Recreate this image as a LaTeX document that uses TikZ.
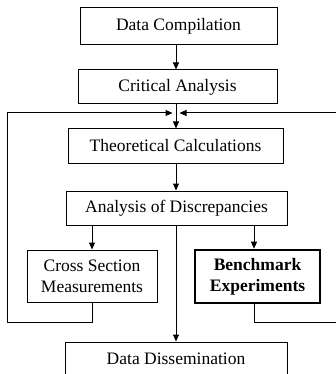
\documentclass[tikz,border=0pt]{standalone}
\usepackage{fontspec}
\setmainfont{Liberation Serif}
\usetikzlibrary{arrows.meta}
\begin{document}
\begin{tikzpicture}[x=1pt,y=-1pt,
  box/.style={draw,line width=1pt,inner sep=0pt,align=center,
    font=\fontsize{17.5}{21}\selectfont},
  bbox/.style={box,line width=2.6pt,font=\fontsize{17.5}{21}\selectfont\bfseries},
  conn/.style={line width=1pt},
  arr/.style={conn,-{Triangle[width=6pt,length=7pt]}}]
\clip (0,0) rectangle (336,374);
\fill[white] (0,0) rectangle (336,374);
\node[box,minimum width=197pt,minimum height=37pt] (dc) at (178.5,26.5) {Data Compilation};
\node[box,minimum width=199pt,minimum height=34pt] (ca) at (177.5,87) {Critical Analysis};
\node[box,minimum width=215pt,minimum height=34pt] (tc) at (175.5,146) {Theoretical Calculations};
\node[box,minimum width=221pt,minimum height=34pt] (ad) at (176.5,208) {Analysis of Discrepancies};
\node[box,minimum width=130pt,minimum height=52pt] (cs) at (92,276) {Cross Section\\Measurements};
\node[bbox,minimum width=125pt,minimum height=53pt] (be) at (257.5,276.5) {Benchmark\\Experiments};
\node[box,minimum width=222pt,minimum height=34pt] (dd) at (176,359) {Data Dissemination};
\coordinate (j) at (176,113);
\coordinate (jl) at (172.5,113);
\coordinate (jr) at (179.5,113);
\draw[arr] (dc.south -| 176,0) -- (ca.north -| 176,0);
\draw[arr] (ca.south -| 176,0) -- (tc.north -| 176,0);
\draw[arr] (tc.south -| 176,0) -- (ad.north -| 176,0);
\draw[arr] (ad.south -| 92,0) -- (cs.north -| 92,0);
\draw[arr] (ad.south -| 254,0) -- (be.north -| 254,0);
\draw[arr] (ad.south -| 176,0) -- (dd.north -| 176,0);
\draw[arr] (cs.south) -- (92,322) -- (7,322) -- (7,113) -- (jl);
\draw[arr] (be.south -| 254,0) -- (254,322) -- (345,322) -- (345,113) -- (jr);
\end{tikzpicture}
\end{document}
